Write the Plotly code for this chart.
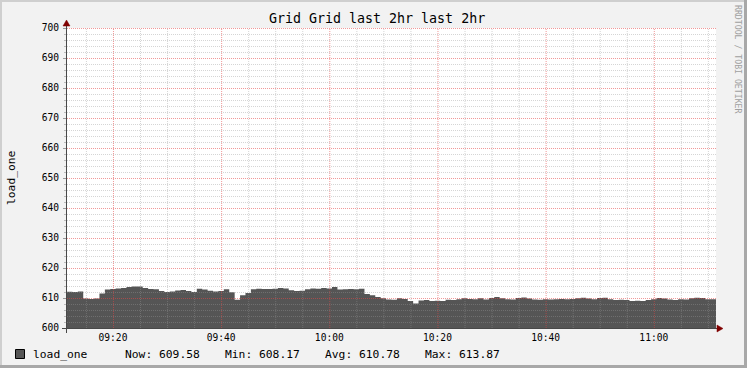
import plotly.graph_objects as go
import pandas as pd

# ---- data -------------------------------------------------------------
start_time = "2024-01-01 09:11:30"
load_one = [
    612.1, 612.0, 612.2, 609.8, 609.7, 609.8, 611.5, 612.8, 613.0, 613.2,
    613.3, 613.7, 613.87, 613.8, 613.3, 613.0, 612.9, 612.3, 612.0, 612.2,
    612.5, 612.7, 612.3, 612.0, 613.1, 612.8, 612.4, 612.2, 612.3, 612.9,
    611.9, 609.4, 610.9, 611.7, 612.9, 613.1, 613.0, 613.0, 613.1, 613.3,
    613.2, 612.6, 612.3, 612.4, 612.9, 613.2, 613.1, 613.3, 613.2, 613.7,
    612.8, 612.9, 613.0, 612.9, 613.1, 611.3, 610.9, 610.3, 609.9, 609.5,
    609.4, 609.9, 609.7, 609.0, 608.2, 609.2, 609.3, 609.0, 609.1, 609.0,
    609.4, 609.3, 609.6, 609.9, 609.7, 609.6, 609.9, 609.5, 610.0, 610.3,
    609.9, 609.6, 609.5, 610.0, 610.2, 609.8, 609.5, 609.4, 609.6, 609.5,
    609.6, 609.7, 609.6, 609.7, 609.9, 610.1, 609.8, 609.6, 610.0, 610.1,
    609.6, 609.3, 609.4, 609.3, 609.0, 609.1, 609.0, 609.3, 609.6, 610.0,
    609.8, 609.5, 609.3, 609.6, 609.5, 609.9, 610.1, 610.0, 609.6, 609.58,
]
title_text = "Grid Grid last 2hr last 2hr"
y_label = "load_one"
legend_name = "load_one"
stat_labels = ["Now:", "Min:", "Avg:", "Max:"]
stat_values = ["609.58", "608.17", "610.78", "613.87"]
credit_text = "RRDTOOL / TOBI OETIKER"
y_range = [600, 700]

# ---- geometry helpers (layout only) ------------------------------------
W, H = 747, 368
L, R, T, B = 67, 716, 28, 328
PW, PH = R - L, B - T


def px(x):
    return (x - L) / PW


def py(y):
    return (B - y) / PH


times = pd.date_range(start_time, periods=len(load_one) + 1, freq="1min")
x_vals = list(times)
y_vals = load_one + [load_one[-1]]

FONT = "DejaVu Sans Mono"
AREA = "#555555"

fig = go.Figure()
fig.add_trace(go.Scatter(
    x=x_vals, y=y_vals, mode="lines", line=dict(color=AREA, width=0, shape="hv"),
    fill="tozeroy", fillcolor=AREA, hoverinfo="skip", showlegend=False,
))

shapes = []
minor_grid = "rgba(150,150,150,0.4)"
major_grid = "rgba(230,70,70,0.55)"
# horizontal grid
yoff = 0.5 / (PH / (y_range[1] - y_range[0]))
for v in range(y_range[0] + 2, y_range[1] + 1, 2):
    col = major_grid if v % 10 == 0 else minor_grid
    shapes.append(dict(type="line", xref="paper", yref="y", x0=0, x1=1,
                       y0=v - yoff, y1=v - yoff, layer="above",
                       line=dict(color=col, width=1, dash="1px,1px")))
# vertical grid (5-minute minor, 20-minute major)
grid_start = pd.Timestamp("2024-01-01 09:15")
grid_times = pd.date_range(grid_start, times[-1], freq="5min")
half_px = pd.Timedelta(seconds=0.5 * 120 * 60 / PW)
for g in grid_times:
    major = (g.minute % 20 == 0)
    gx = (g + half_px).strftime("%Y-%m-%d %H:%M:%S.%f")
    shapes.append(dict(type="line", xref="x", yref="paper", x0=gx, x1=gx,
                       y0=0, y1=1, layer="above",
                       line=dict(color=major_grid if major else minor_grid,
                                 width=1, dash="1px,1px")))

AXIS = "#484848"
ARROW = "#800000"
# axes lines
shapes.append(dict(type="line", xref="paper", yref="paper",
                   x0=px(62), x1=px(720), y0=py(328.5), y1=py(328.5),
                   layer="above", line=dict(color=AXIS, width=1)))
shapes.append(dict(type="line", xref="paper", yref="paper",
                   x0=px(66.5), x1=px(66.5), y0=py(333), y1=py(24),
                   layer="above", line=dict(color=AXIS, width=1)))


def tri(points):
    return "M " + " L ".join(f"{px(a):.5f},{py(b):.5f}" for a, b in points) + " Z"


shapes.append(dict(type="path", xref="paper", yref="paper",
                   path=tri([(717, 325), (723, 328.5), (717, 332)]),
                   fillcolor=ARROW, line=dict(color=ARROW, width=0.5), layer="above"))
shapes.append(dict(type="path", xref="paper", yref="paper",
                   path=tri([(63, 26), (66.5, 20), (70, 26)]),
                   fillcolor=ARROW, line=dict(color=ARROW, width=0.5), layer="above"))
# page shading border
shapes.append(dict(type="rect", xref="paper", yref="paper", x0=px(0), x1=px(2),
                   y0=py(0), y1=py(H), fillcolor="#CFCFCF", line=dict(width=0), layer="below"))
shapes.append(dict(type="rect", xref="paper", yref="paper", x0=px(0), x1=px(W),
                   y0=py(0), y1=py(2), fillcolor="#CFCFCF", line=dict(width=0), layer="below"))
shapes.append(dict(type="rect", xref="paper", yref="paper", x0=px(W - 3), x1=px(W),
                   y0=py(0), y1=py(H), fillcolor="#A8A8A8", line=dict(width=0), layer="below"))
shapes.append(dict(type="rect", xref="paper", yref="paper", x0=px(0), x1=px(W),
                   y0=py(H - 3), y1=py(H), fillcolor="#A8A8A8", line=dict(width=0), layer="below"))
# legend box
shapes.append(dict(type="rect", xref="paper", yref="paper", x0=px(15.5), x1=px(24.5),
                   y0=py(349.5), y1=py(358.5), fillcolor=AREA,
                   line=dict(color="#000000", width=1), layer="above"))

annotations = [
    dict(text=title_text, x=px(377), y=py(19), xref="paper", yref="paper",
         xanchor="center", yanchor="middle", showarrow=False,
         font=dict(family=FONT, size=13.3, color="#000000")),
    dict(text=y_label, x=px(11), y=py(178), xref="paper", yref="paper",
         xanchor="center", yanchor="middle", showarrow=False, textangle=-90,
         font=dict(family=FONT, size=11.3, color="#000000")),
    dict(text=credit_text, x=px(738), y=py(60), xref="paper", yref="paper",
         xanchor="center", yanchor="middle", showarrow=False, textangle=90,
         font=dict(family=FONT, size=8.2, color="#A0A0A0")),
    dict(text=legend_name, x=px(31), y=py(354), xref="paper", yref="paper",
         xanchor="left", yanchor="middle", showarrow=False,
         font=dict(family=FONT, size=11.3, color="#000000")),
]
stat_x = [123, 222.7, 322.7, 422.7]
for lab, val, sx in zip(stat_labels, stat_values, stat_x):
    annotations.append(dict(text=f"{lab} {val}", x=px(sx), y=py(354), xref="paper",
                            yref="paper", xanchor="left", yanchor="middle",
                            showarrow=False,
                            font=dict(family=FONT, size=11.3, color="#000000")))

fig.update_layout(
    width=W, height=H,
    margin=dict(l=L, r=W - R, t=T, b=H - B),
    paper_bgcolor="#F2F2F2", plot_bgcolor="#FFFFFF",
    showlegend=False,
    shapes=shapes, annotations=annotations,
    font=dict(family=FONT, size=10, color="#000000"),
    xaxis=dict(
        type="date", range=[times[0], times[-1]],
        tick0="2024-01-01 09:20", dtick=20 * 60 * 1000, tickformat="%H:%M",
        showgrid=False, zeroline=False, showline=False, ticks="",
        ticklabelstandoff=2,
        tickfont=dict(family=FONT, size=9.6, color="#000000"),
        fixedrange=True,
    ),
    yaxis=dict(
        range=y_range, dtick=10, showgrid=False, zeroline=False, showline=False,
        ticks="outside", ticklen=3, tickcolor="#999999",
        ticklabelstandoff=2,
        minor=dict(dtick=2, ticks="outside", ticklen=2, tickcolor="#BBBBBB"),
        tickfont=dict(family=FONT, size=9.6, color="#000000"),
        fixedrange=True,
    ),
)

fig.write_html("out.html", config={"displayModeBar": False})
